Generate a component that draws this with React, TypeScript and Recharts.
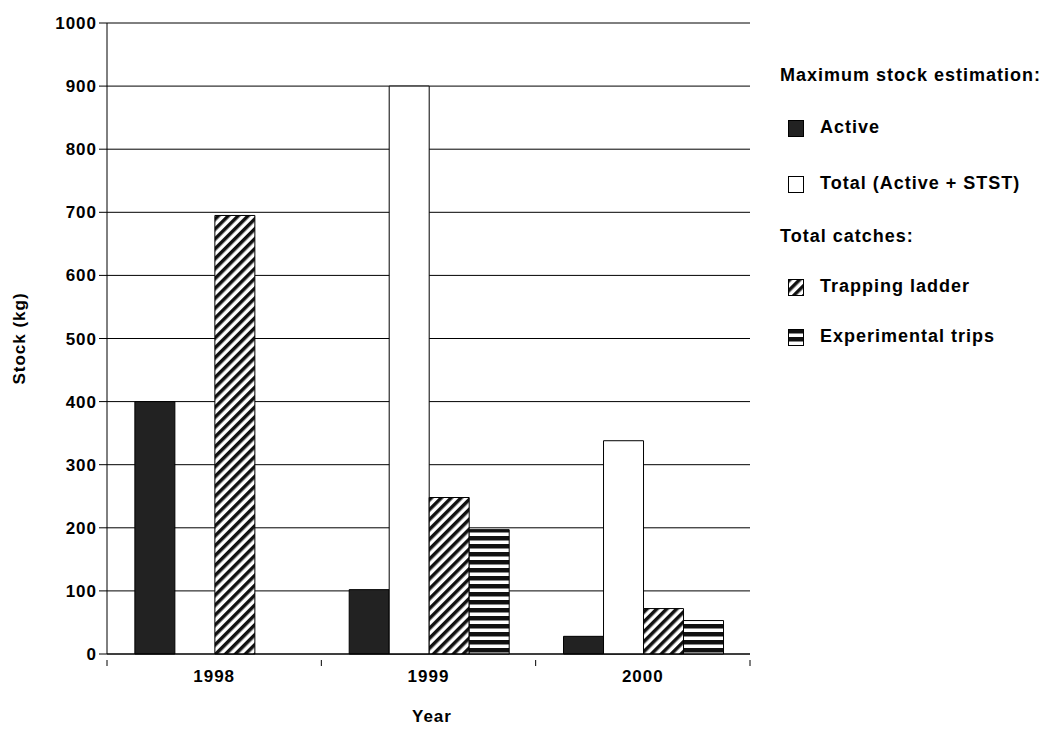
import React from 'react';
import { BarChart, Bar, XAxis, YAxis, CartesianGrid } from 'recharts';

const years = ['1998', '1999', '2000'];
const active = [400, 102, 28];
const total = [0, 900, 338];
const trapping = [695, 248, 72];
const experimental = [0, 197, 53];
const yTicks = [0, 100, 200, 300, 400, 500, 600, 700, 800, 900, 1000];

const data = years.map((year, i) => ({
  year,
  active: active[i],
  total: total[i] || null,
  trapping: trapping[i],
  experimental: experimental[i] || null,
}));

const font = { fontFamily: '"Liberation Sans", Arial, sans-serif', fontWeight: 700, letterSpacing: 1 };
const BAND = 643 / 3;

const YearTick = (props: any) => {
  const { x, y, payload, index } = props;
  return (
    <g>
      <line x1={x - BAND / 2} x2={x - BAND / 2} y1={y - 8} y2={y - 2} stroke="#000" />
      {index === years.length - 1 && <line x1={x + BAND / 2} x2={x + BAND / 2} y1={y - 8} y2={y - 2} stroke="#000" />}
      <text x={x} y={y + 14} textAnchor="middle" fill="#000" fontSize={17} style={font}>{payload.value}</text>
    </g>
  );
};

const Swatch: React.FC<{ fill: string }> = ({ fill }) => (
  <svg width={16} height={17} style={{ marginRight: 16, verticalAlign: 'middle' }}>
    <rect x={0.5} y={0.5} width={15} height={16} fill={fill} stroke="#000" />
  </svg>
);

export default function App() {
  return (
    <div style={{ position: 'relative', width: 1044, height: 733, ...font }}>
      <svg width={0} height={0} style={{ position: 'absolute' }}>
        <defs>
          <pattern id="hatch" width="7" height="7" patternUnits="userSpaceOnUse" patternTransform="rotate(45)">
            <rect width="7" height="7" fill="#fff" />
            <rect width="3.5" height="7" fill="#111" />
          </pattern>
          <pattern id="stripes" width="8" height="8" patternUnits="userSpaceOnUse">
            <rect width="8" height="8" fill="#fff" />
            <rect width="8" height="4.5" fill="#111" />
          </pattern>
        </defs>
      </svg>
      <BarChart
        width={760}
        height={700}
        data={data}
        margin={{ top: 15, right: 18, left: 35, bottom: 0 }}
        barCategoryGap="13%"
        barGap={0}
      >
        <CartesianGrid vertical={false} stroke="#000" />
        <XAxis
          dataKey="year"
          height={54}
          axisLine={{ stroke: '#000' }}
          tickLine={false}
          tick={<YearTick />}
          tickMargin={8}
        />
        <YAxis
          domain={[0, 1000]}
          ticks={yTicks}
          width={64}
          axisLine={{ stroke: '#000' }}
          tickLine={{ stroke: '#000' }}
          tickSize={8}
          tick={{ fill: '#000', fontSize: 17, ...font }}
          label={{ value: 'Stock (kg)', angle: -90, position: 'insideLeft', offset: -24, style: { fill: '#000', fontSize: 17, ...font, textAnchor: 'middle' } }}
        />
        <Bar dataKey="active" fill="#222" stroke="#000" isAnimationActive={false} />
        <Bar dataKey="total" fill="#fff" stroke="#000" isAnimationActive={false} />
        <Bar dataKey="trapping" fill="url(#hatch)" stroke="#000" isAnimationActive={false} />
        <Bar dataKey="experimental" fill="url(#stripes)" stroke="#000" isAnimationActive={false} />
      </BarChart>
      <div style={{ position: 'absolute', left: 404, top: 699, fontSize: 17 }}>Year</div>
      <div style={{ position: 'absolute', left: 772, top: 57, fontSize: 18, lineHeight: '20px' }}>
        <div>Maximum stock estimation:</div>
        <div style={{ marginTop: 32, marginLeft: 8 }}><Swatch fill="#222" />Active</div>
        <div style={{ marginTop: 36, marginLeft: 8 }}><Swatch fill="#fff" />Total (Active + STST)</div>
        <div style={{ marginTop: 33 }}>Total catches:</div>
        <div style={{ marginTop: 30, marginLeft: 8 }}><Swatch fill="url(#hatch)" />Trapping ladder</div>
        <div style={{ marginTop: 30, marginLeft: 8 }}><Swatch fill="url(#stripes)" />Experimental trips</div>
      </div>
    </div>
  );
}
